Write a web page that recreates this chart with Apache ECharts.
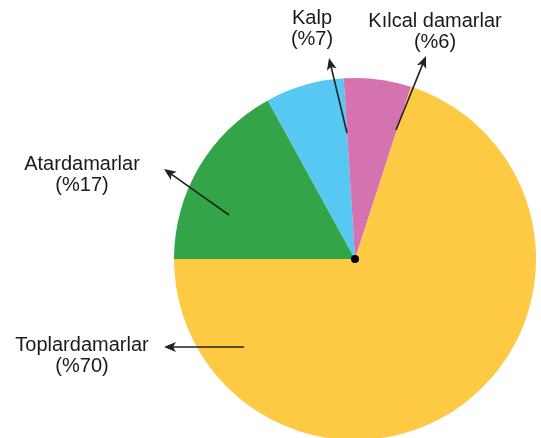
<!DOCTYPE html>
<html>
<head>
<meta charset="utf-8">
<script src="https://cdn.jsdelivr.net/npm/echarts@6/dist/echarts.min.js"></script>
<style>
  html, body { margin: 0; padding: 0; background: #fff; }
  #main { width: 541px; height: 438px; }
</style>
</head>
<body>
<div id="main"></div>
<script>
// dolaşım sistemindeki kanın dağılımı
var names = ['Atardamarlar', 'Kalp', 'Kılcal damarlar', 'Toplardamarlar'];
var values = [17, 7, 6, 70];

var colors = ['#34a448', '#56c8f1', '#d573b0', '#fec943'];
var pieCenter = [355, 259];
var pieRadius = 181;

// etiket yeri + ok (başlangıç -> uç)
var notes = [
  { x: 82, y: 154, from: [229, 215], to: [164, 169] },
  { x: 312, y: 8, from: [347, 133], to: [329, 58] },
  { x: 435, y: 11, from: [396, 130], to: [426, 56] },
  { x: 82, y: 335, from: [244, 347], to: [164, 347] }
];

var chart = echarts.init(document.getElementById('main'), null, { renderer: 'canvas' });

var pieData = [];
for (var i = 0; i < names.length; i++) {
  pieData.push({ name: names[i], value: values[i], itemStyle: { color: colors[i] } });
}

function arrow(n) {
  var dx = n.to[0] - n.from[0], dy = n.to[1] - n.from[1];
  var len = Math.sqrt(dx * dx + dy * dy);
  var ux = dx / len, uy = dy / len;
  var L = 12, W = 5;
  var bx = n.to[0] - ux * L, by = n.to[1] - uy * L;
  var nx = bx + ux * 3, ny = by + uy * 3;
  return [
    {
      type: 'line',
      z: 100,
      shape: { x1: n.from[0], y1: n.from[1], x2: bx + ux * 4, y2: by + uy * 4 },
      style: { stroke: '#1e2226', lineWidth: 1.6 }
    },
    {
      type: 'polygon',
      z: 100,
      shape: { points: [n.to, [bx - uy * W, by + ux * W], [nx, ny], [bx + uy * W, by - ux * W]] },
      style: { fill: '#1e2226' }
    }
  ];
}

var graphics = [];
for (var j = 0; j < notes.length; j++) {
  graphics.push({
    type: 'text',
    z: 100,
    x: notes[j].x,
    y: notes[j].y,
    style: {
      text: names[j] + '\n(%' + values[j] + ')',
      font: '20px "Liberation Sans", Arial, sans-serif',
      fill: '#1a1a1a',
      align: 'center',
      verticalAlign: 'top',
      lineHeight: 21
    }
  });
  graphics = graphics.concat(arrow(notes[j]));
}
graphics.push({
  type: 'circle',
  z: 100,
  shape: { cx: pieCenter[0], cy: pieCenter[1], r: 4 },
  style: { fill: '#000' }
});

var option = {
  animation: false,
  series: [{
    type: 'pie',
    z: 1,
    center: pieCenter,
    radius: pieRadius,
    startAngle: 180,
    clockwise: true,
    label: { show: false },
    labelLine: { show: false },
    emphasis: { disabled: true },
    itemStyle: { borderWidth: 0 },
    data: pieData
  }],
  graphic: graphics
};
chart.setOption(option);
</script>
</body>
</html>
